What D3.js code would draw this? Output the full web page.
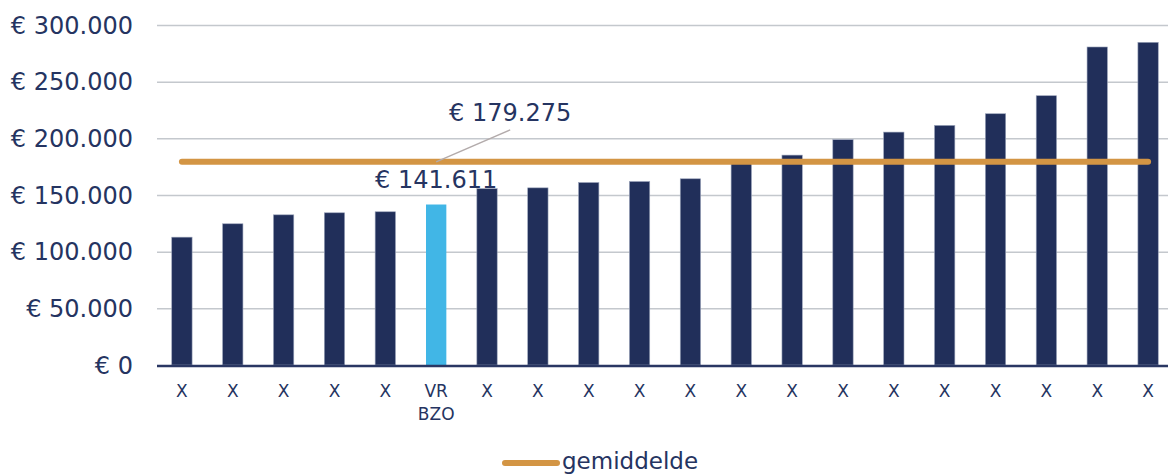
<!DOCTYPE html>
<html>
<head>
<meta charset="utf-8">
<script src="https://cdn.jsdelivr.net/npm/d3@7"></script>
<style>
  body { margin: 0; background: #fff; }
  text { font-family: "DejaVu Sans", Verdana, sans-serif; fill: #253461; }
</style>
</head>
<body>
<div id="chart"></div>
<script>
// categories (tick labels, multi-line split by \n)
var labels = ["X", "X", "X", "X", "X", "VR\nBZO", "X", "X", "X", "X",
              "X", "X", "X", "X", "X", "X", "X", "X", "X", "X"];
// bar values in euro
var values = [112800, 124600, 132500, 134300, 135200, 141611, 155600, 156300, 161000, 161900,
              164300, 178500, 185200, 198800, 205500, 211400, 221700, 237600, 280600, 284700];
var highlightIndex = 5;
var average = 179275;
var yTicks = [0, 50000, 100000, 150000, 200000, 250000, 300000];

var width = 1168, height = 474;
var margin = {top: 25, right: 0, bottom: 109, left: 157};

var fmt = function(v) {
    return "€ " + d3.format(",")(v).replace(/,/g, ".");
};

var svg = d3.select("#chart").append("svg")
    .attr("width", width)
    .attr("height", height);

// band range runs a little past the right edge, like the original plot area
var x = d3.scaleBand()
    .domain(d3.range(values.length))
    .range([margin.left, width + 5])
    .paddingInner(0.6)
    .paddingOuter(0.29);

var y = d3.scaleLinear()
    .domain([0, 300000])
    .range([height - margin.bottom, margin.top]);

// gridlines
svg.append("g")
    .selectAll("line")
    .data(yTicks.slice(1))
    .enter().append("line")
    .attr("x1", margin.left)
    .attr("x2", width - margin.right)
    .attr("y1", function(d) { return y(d) + 0.5; })
    .attr("y2", function(d) { return y(d) + 0.5; })
    .attr("stroke", "#c4c8cd")
    .attr("stroke-width", 1.5);

// y axis labels
svg.append("g")
    .selectAll("text")
    .data(yTicks)
    .enter().append("text")
    .attr("x", 133)
    .attr("y", function(d) { return y(d); })
    .attr("dy", "0.36em")
    .attr("text-anchor", "end")
    .style("font-size", "24px")
    .text(fmt);

// bars
svg.append("g")
    .selectAll("rect")
    .data(values)
    .enter().append("rect")
    .attr("x", function(d, i) { return x(i); })
    .attr("y", function(d) { return y(d); })
    .attr("width", x.bandwidth())
    .attr("height", function(d) { return y(0) - y(d); })
    .attr("fill", function(d, i) { return i === highlightIndex ? "#41b6e6" : "#212f5a"; })
    .attr("stroke", function(d, i) { return i === highlightIndex ? "none" : "#9aa3ba"; })
    .attr("stroke-width", 0.6);

// x axis line
svg.append("line")
    .attr("x1", margin.left)
    .attr("x2", width - margin.right)
    .attr("y1", y(0) + 1)
    .attr("y2", y(0) + 1)
    .attr("stroke", "#2a3763")
    .attr("stroke-width", 2.5);

// x labels
var xl = svg.append("g")
    .selectAll("text")
    .data(labels)
    .enter().append("text")
    .attr("text-anchor", "middle")
    .attr("transform", function(d, i) {
        return "translate(" + (x(i) + x.bandwidth() / 2) + "," + (y(0) + 32) + ")";
    })
    .style("font-size", "17px");
xl.each(function(d) {
    var t = d3.select(this);
    d.split("\n").forEach(function(line, k) {
        t.append("tspan").attr("x", 0).attr("dy", k === 0 ? 0 : 23).text(line);
    });
});

// average line
var avgLine = d3.line()
    .x(function(d, i) { return x(i) + x.bandwidth() / 2; })
    .y(function() { return y(average); });

svg.append("path")
    .datum(values)
    .attr("d", avgLine)
    .attr("fill", "none")
    .attr("stroke", "#d39544")
    .attr("stroke-width", 6)
    .attr("stroke-linecap", "round");

// labels
var hx = x(highlightIndex) + x.bandwidth() / 2;

svg.append("text")
    .attr("x", hx)
    .attr("y", y(values[highlightIndex]) - 17)
    .attr("text-anchor", "middle")
    .style("font-size", "24px")
    .text(fmt(values[highlightIndex]));

svg.append("line")
    .attr("x1", hx)
    .attr("y1", y(average))
    .attr("x2", hx + 74)
    .attr("y2", y(average) - 32)
    .attr("stroke", "#b3abab")
    .attr("stroke-width", 1.5);

svg.append("text")
    .attr("x", hx + 74)
    .attr("y", y(average) - 41)
    .attr("text-anchor", "middle")
    .style("font-size", "24px")
    .text(fmt(average));

// legend
var legend = svg.append("g").attr("transform", "translate(505,463)");
legend.append("line")
    .attr("x1", 0).attr("x2", 52)
    .attr("stroke", "#d39544")
    .attr("stroke-width", 6)
    .attr("stroke-linecap", "round");
legend.append("text")
    .attr("x", 57)
    .attr("y", 6)
    .style("font-size", "23px")
    .text("gemiddelde");
</script>
</body>
</html>
